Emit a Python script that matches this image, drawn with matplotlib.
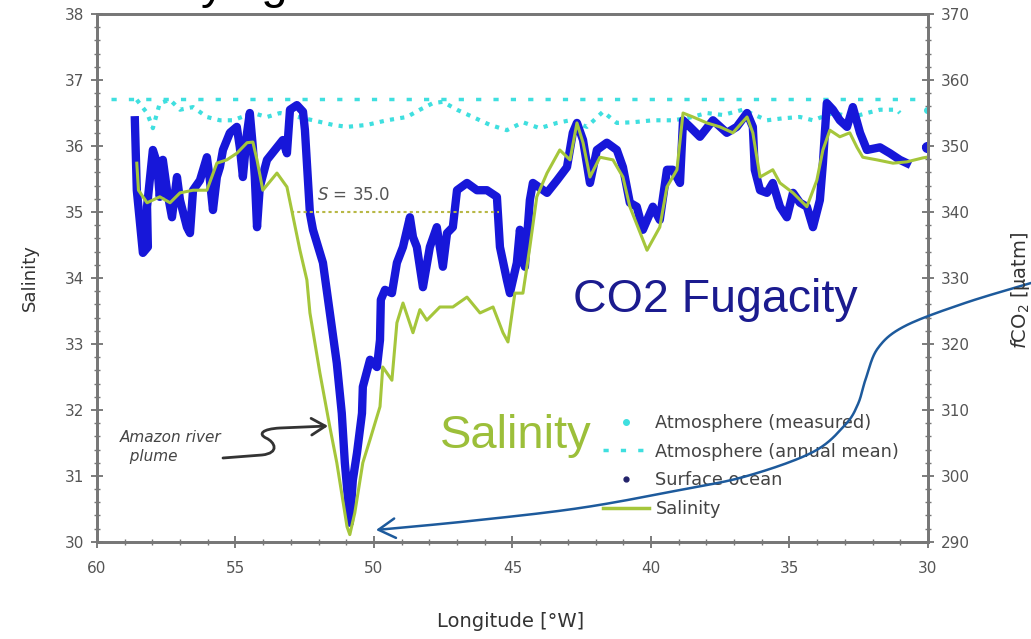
import numpy as np
import matplotlib.pyplot as plt
from matplotlib.path import Path
from matplotlib.patches import FancyArrowPatch
from matplotlib.ticker import MultipleLocator
from matplotlib.lines import Line2D

plt.rcParams['font.family'] = ['DejaVu Sans']

# salinity track (longitude W, salinity)
salinity_track = [
    (58.56, 35.74), (58.50, 35.33), (58.19, 35.14), (57.73, 35.23), (57.36, 35.14),
    (57.00, 35.29), (56.53, 35.33), (56.03, 35.33), (55.67, 35.74), (55.31, 35.79),
    (54.95, 35.89), (54.58, 36.05), (54.37, 36.06), (54.22, 35.79), (54.01, 35.33),
    (53.50, 35.59), (53.14, 35.38), (52.67, 34.42), (52.42, 33.97), (52.31, 33.47),
    (51.95, 32.56), (51.59, 31.74), (51.34, 31.20), (50.97, 30.23), (50.87, 30.11),
    (50.69, 30.44), (50.40, 31.20), (50.14, 31.55), (49.78, 32.05), (49.68, 32.65),
    (49.35, 32.45), (49.17, 33.32), (48.95, 33.62), (48.59, 33.17), (48.34, 33.52),
    (48.09, 33.36), (47.62, 33.56), (47.15, 33.56), (46.64, 33.71), (46.17, 33.47),
    (45.70, 33.56), (45.34, 33.17), (45.16, 33.03), (44.91, 33.77), (44.62, 33.77),
    (44.37, 34.47), (44.12, 35.23), (43.75, 35.59), (43.29, 35.94), (42.92, 35.79),
    (42.67, 36.35), (42.45, 36.05), (42.20, 35.53), (41.84, 35.83), (41.37, 35.79),
    (41.01, 35.53), (40.76, 35.08), (40.14, 34.42), (39.68, 34.77), (39.42, 35.38),
    (39.06, 35.64), (38.84, 36.50), (38.48, 36.44), (37.98, 36.35), (37.51, 36.29),
    (37.04, 36.20), (36.53, 36.44), (36.32, 36.20), (36.06, 35.53), (35.60, 35.64),
    (35.34, 35.44), (34.87, 35.29), (34.37, 35.08), (34.01, 35.48), (33.79, 35.94),
    (33.54, 36.24), (33.18, 36.14), (32.82, 36.20), (32.56, 35.98), (32.35, 35.83),
    (31.84, 35.79), (31.26, 35.74), (30.76, 35.76), (30.18, 35.82), (30.04, 35.83),
]

# surface ocean fCO2 (longitude W, uatm)
ocean_track = [
    (58.63, 353.9), (58.56, 343.3), (58.34, 333.8), (58.16, 334.7), (58.19, 340.8),
    (57.98, 349.4), (57.83, 347.4), (57.73, 342.3), (57.62, 347.9), (57.47, 343.3),
    (57.29, 339.2), (57.11, 345.3), (57.00, 341.8), (56.75, 337.7), (56.64, 336.8),
    (56.53, 343.3), (56.28, 344.8), (56.03, 348.3), (55.92, 344.8), (55.81, 340.3),
    (55.67, 345.3), (55.56, 346.8), (55.45, 349.4), (55.20, 352.0), (54.95, 352.9),
    (54.84, 349.8), (54.73, 345.3), (54.58, 352.0), (54.48, 355.0), (54.37, 349.8),
    (54.30, 345.3), (54.22, 337.7), (54.12, 343.8), (53.86, 347.9), (53.50, 349.8),
    (53.29, 350.9), (53.14, 348.9), (53.03, 355.5), (52.78, 356.2), (52.56, 355.2),
    (52.49, 352.4), (52.42, 347.4), (52.31, 339.8), (52.20, 337.3), (51.84, 332.3),
    (51.59, 324.7), (51.34, 317.1), (51.16, 309.5), (51.05, 302.0), (50.94, 296.8),
    (50.87, 292.9), (50.76, 299.4), (50.61, 303.5), (50.43, 309.5), (50.40, 313.5),
    (50.14, 317.6), (49.89, 316.5), (49.78, 320.6), (49.75, 326.7), (49.60, 328.2),
    (49.35, 327.7), (49.17, 332.3), (48.95, 334.7), (48.70, 339.2), (48.59, 336.2),
    (48.45, 334.7), (48.23, 328.6), (47.98, 334.7), (47.73, 337.7), (47.51, 331.7),
    (47.36, 336.8), (47.15, 337.7), (47.00, 343.3), (46.64, 344.4), (46.28, 343.3),
    (45.92, 343.3), (45.56, 342.3), (45.45, 334.7), (45.20, 329.7), (45.09, 327.7),
    (44.84, 332.3), (44.73, 337.3), (44.55, 331.7), (44.37, 341.8), (44.26, 344.4),
    (43.75, 342.9), (43.39, 344.8), (43.03, 346.8), (42.82, 352.0), (42.67, 353.5),
    (42.45, 350.9), (42.20, 344.4), (41.95, 349.4), (41.59, 350.5), (41.23, 349.4),
    (41.01, 346.8), (40.76, 341.4), (40.51, 340.8), (40.29, 337.3), (39.93, 340.8),
    (39.68, 338.8), (39.42, 346.4), (39.21, 346.4), (38.95, 344.4), (38.84, 353.9),
    (38.59, 352.9), (38.23, 351.4), (37.76, 353.9), (37.26, 352.0), (36.90, 352.9),
    (36.53, 355.0), (36.32, 352.9), (36.25, 346.4), (36.06, 343.3), (35.81, 342.9),
    (35.60, 344.4), (35.34, 340.8), (35.09, 339.2), (34.87, 342.9), (34.62, 341.4),
    (34.37, 340.8), (34.15, 337.7), (33.90, 341.8), (33.79, 347.4), (33.65, 356.5),
    (33.43, 355.5), (33.18, 353.9), (32.92, 352.9), (32.71, 355.9), (32.45, 352.0),
    (32.20, 349.4), (31.73, 349.8), (31.37, 348.9), (31.01, 347.9), (30.76, 347.4),
]
ocean_last = (30.04, 349.8)

# atmosphere measured fCO2
atm_track = [
    (58.56, 357.0), (58.19, 355.0), (57.98, 352.7), (57.73, 356.5), (57.36, 357.0),
    (57.00, 355.5), (56.53, 355.9), (56.03, 354.4), (55.56, 353.9), (55.09, 353.9),
    (54.37, 355.0), (53.86, 354.4), (53.39, 355.0), (52.20, 353.9), (51.48, 353.2),
    (50.97, 352.9), (50.25, 353.2), (49.53, 353.9), (48.81, 354.4), (48.34, 355.5),
    (47.87, 356.5), (47.51, 356.7), (47.00, 355.5), (46.43, 354.4), (45.81, 353.2),
    (45.20, 352.4), (44.62, 353.6), (44.01, 352.7), (43.39, 353.5), (42.92, 353.9),
    (42.31, 352.9), (41.73, 355.2), (41.23, 353.5), (40.65, 353.6), (39.93, 353.9),
    (39.21, 353.9), (38.70, 354.2), (37.98, 355.0), (37.40, 354.7), (36.68, 355.5),
    (35.81, 353.9), (35.23, 354.2), (34.62, 354.4), (34.15, 353.9), (33.43, 355.0),
    (32.71, 354.4), (32.20, 355.0), (31.73, 355.5), (31.12, 355.5), (31.01, 355.0),
]
atm_last = (30.04, 355.5)
annual_mean = 357.1
annual_lon = [59.5, 30.0]
s35_lon = [53.0, 45.5]
s35_val = 35.0

sal = np.array(salinity_track)
ocean = np.array(ocean_track)
atm = np.array(atm_track)

c_blue = '#1717d9'
c_cyan = '#3fdfdf'
c_green = '#a5c63b'
c_grey = '#555555'
slide_font = ['Liberation Sans', 'DejaVu Sans']

fig = plt.figure(figsize=(10.31, 6.39), dpi=100)
ax = fig.add_axes([0.094, 0.152, 0.806, 0.826])   # fCO2, right side
ax2 = ax.twinx()                                   # salinity, left side

ax.yaxis.set_ticks_position('right')
ax2.yaxis.set_ticks_position('left')

ax.plot(annual_lon, [annual_mean, annual_mean], color=c_cyan, lw=2.5,
        ls=(0, (1.5, 3.5)))
ax.plot(atm[:, 0], atm[:, 1], color=c_cyan, lw=3, ls=(0, (1, 1.5)))
ax.plot(*atm_last, 'o', color=c_cyan, ms=4)
ax.plot(ocean[:, 0], ocean[:, 1], color=c_blue, lw=6, solid_joinstyle='round')
ax.plot(*ocean_last, 'o', color=c_blue, ms=7)

ax2.plot(s35_lon, [s35_val, s35_val], color='#b8b845', lw=1.5, ls=(0, (1.5, 1.5)))
ax2.plot(sal[:, 0], sal[:, 1], color=c_green, lw=2.2)
ax2.text(52.05, 35.12, r'$S$ = 35.0', fontsize=12, color=c_grey, va='bottom')

ax.set_xlim(60, 30)
ax.set_ylim(290, 370)
ax2.set_ylim(30, 38)
ax.xaxis.set_major_locator(MultipleLocator(5))
ax.xaxis.set_minor_locator(MultipleLocator(1))
ax.yaxis.set_major_locator(MultipleLocator(10))
ax.yaxis.set_minor_locator(MultipleLocator(2))
ax2.yaxis.set_major_locator(MultipleLocator(1))
ax2.yaxis.set_minor_locator(MultipleLocator(0.2))

for a in (ax, ax2):
    for s in a.spines.values():
        s.set_color('#777777')
        s.set_linewidth(2)
    a.tick_params(which='major', direction='inout', length=8, width=1.2,
                  colors='#666666', labelsize=11, labelcolor=c_grey, pad=5)
    a.tick_params(which='minor', direction='inout', length=4, width=1,
                  colors='#777777')
ax.tick_params(axis='x', pad=10)

fig.text(0.029, 0.565, 'Salinity', rotation=90, fontsize=13, color='#333333',
         ha='center', va='center')
fig.text(0.99, 0.545, r'$f$CO$_2$ [µatm]', rotation=90, fontsize=14,
         color='#333333', ha='center', va='center')
fig.text(0.495, 0.027, 'Longitude [°W]', fontsize=14, color='#333333',
         ha='center', va='center')

# legend
handles = [
    Line2D([], [], ls='none', marker='o', ms=4, color=c_cyan),
    Line2D([], [], color=c_cyan, lw=2.5, ls=(0, (1.5, 3.5))),
    Line2D([], [], ls='none', marker='o', ms=3.5, color='#22226a'),
    Line2D([], [], color=c_green, lw=2.5),
]
labels = ['Atmosphere (measured)', 'Atmosphere (annual mean)', 'Surface ocean', 'Salinity']
leg = ax2.legend(handles, labels, loc='upper left', bbox_to_anchor=(603 / 1031, 1 - 414 / 639),
                 bbox_transform=fig.transFigure, frameon=False, fontsize=12.8,
                 handlelength=2.6, labelspacing=0.6, handletextpad=0.35,
                 borderpad=0, borderaxespad=0)
for t in leg.get_texts():
    t.set_color('#444444')

# overlay texts from slide
fig.text(0.556, 0.53, 'CO2 Fugacity', fontsize=33.5, color='#1b1b8f', va='center',
         family=slide_font)
fig.text(0.427, 0.318, 'Salinity', fontsize=34, color='#9cbf3a', va='center',
         family=slide_font)
fig.text(0.128, 1.0 + 2.0 / 639, 'Varying', fontsize=34, color='black', va='baseline',
         family=slide_font)

# Amazon river plume note
fig.text(0.116, 1 - 447 / 639, 'Amazon river\n  plume', fontsize=11, style='italic',
         color='#444444', ha='left', va='center', linespacing=1.25)


def fig_pt(x, y):
    return (x / 1031.0, 1.0 - y / 639.0)


def smooth_path(pts, n=20):
    # Catmull-Rom through waypoints (pixel coords), returned in figure fraction
    p = np.array(pts, dtype=float)
    p = np.vstack([p[0], p, p[-1]])
    out = []
    for i in range(1, len(p) - 2):
        p0, p1, p2, p3 = p[i - 1], p[i], p[i + 1], p[i + 2]
        for t in np.linspace(0, 1, n, endpoint=False):
            t2, t3 = t * t, t * t * t
            out.append(0.5 * ((2 * p1) + (-p0 + p2) * t
                              + (2 * p0 - 5 * p1 + 4 * p2 - p3) * t2
                              + (-p0 + 3 * p1 - 3 * p2 + p3) * t3))
    out.append(p[-2])
    return Path([fig_pt(x, y) for x, y in out])


pv = [fig_pt(223, 458), fig_pt(262, 455), fig_pt(280, 453), fig_pt(275, 442),
      fig_pt(266, 438), fig_pt(258, 434), fig_pt(262, 429), fig_pt(280, 428),
      fig_pt(328, 426)]
pc = [Path.MOVETO, Path.LINETO, Path.CURVE4, Path.CURVE4, Path.CURVE4,
      Path.CURVE4, Path.CURVE4, Path.CURVE4, Path.LINETO]
fig.add_artist(FancyArrowPatch(path=Path(pv, pc), arrowstyle='->,head_length=0.5,head_width=0.3',
                               mutation_scale=20, lw=2, color='#333333',
                               transform=fig.transFigure))

blue_way = [(1031, 283), (965, 303), (905, 326), (878, 348), (866, 378),
            (858, 404), (845, 425), (813, 452), (747, 476), (680, 490),
            (580, 508), (470, 521), (376, 530)]
fig.add_artist(FancyArrowPatch(path=smooth_path(blue_way),
                               arrowstyle='->,head_length=0.6,head_width=0.35',
                               mutation_scale=20, lw=1.8, color='#1d5a9c',
                               transform=fig.transFigure))

fig.savefig('out.png', dpi=100)
